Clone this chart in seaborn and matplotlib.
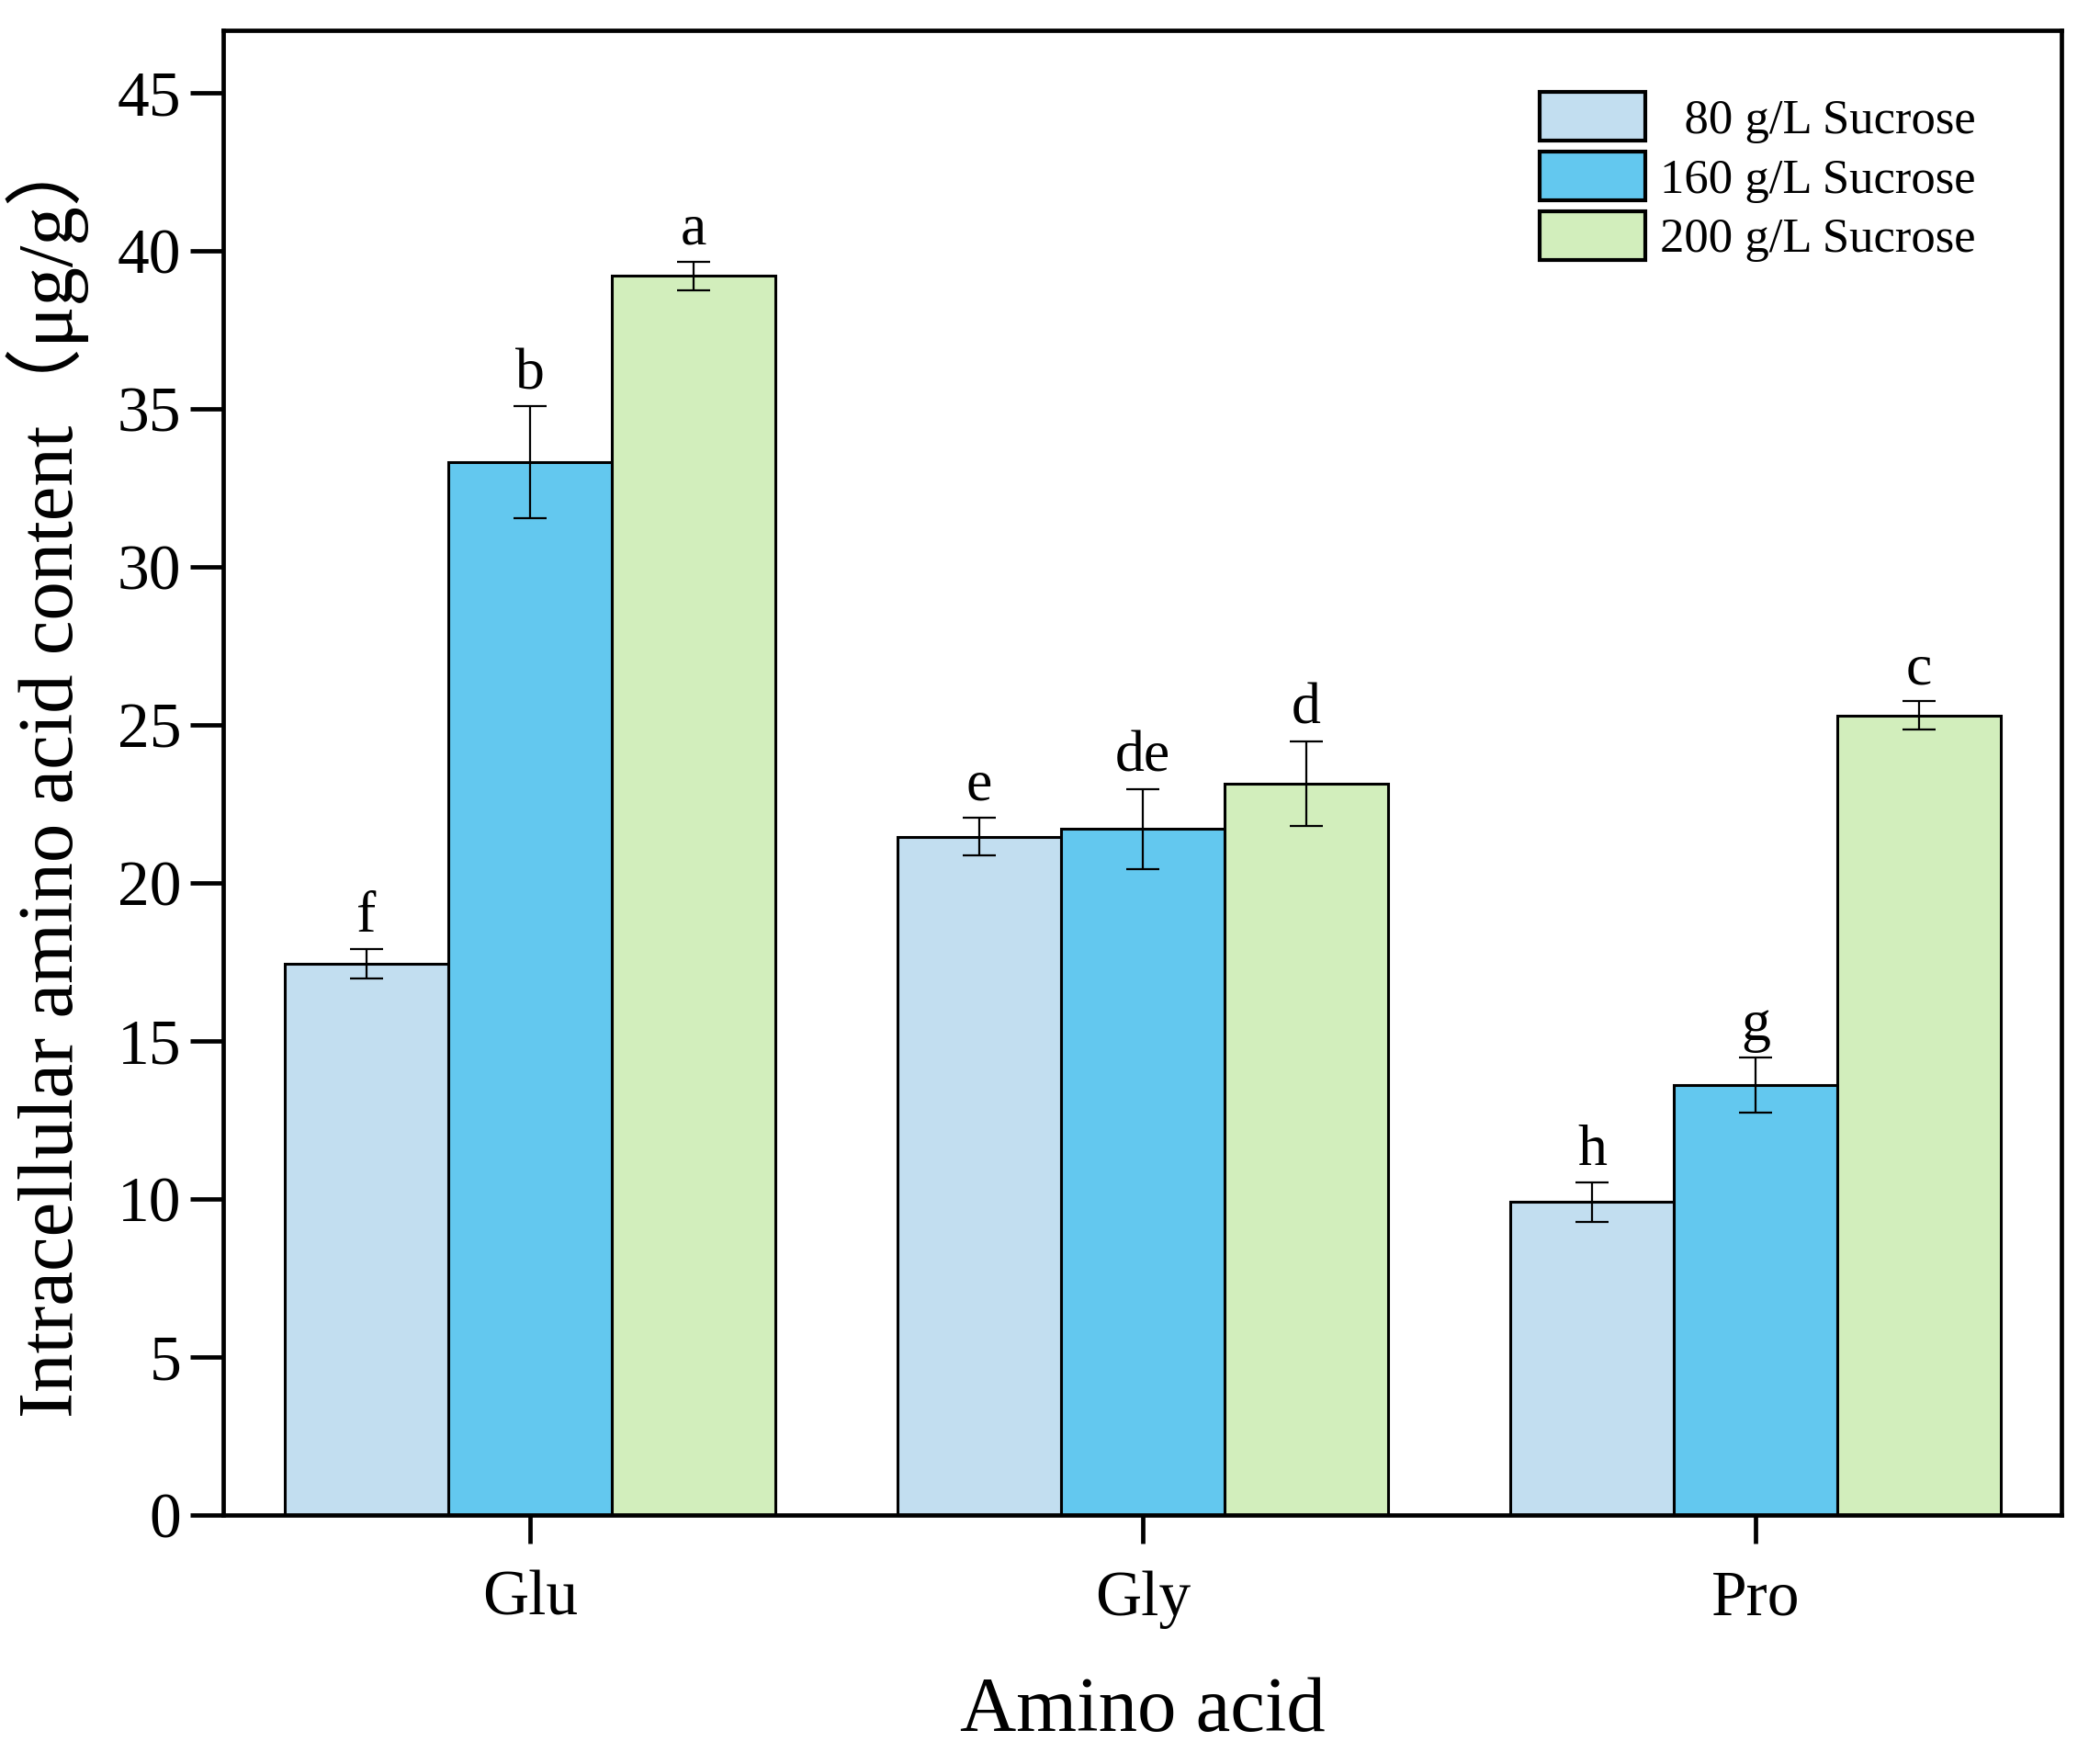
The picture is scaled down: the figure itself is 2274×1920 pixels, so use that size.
import numpy as np
import pandas as pd
import seaborn as sns
import matplotlib.pyplot as plt

amino = ["Glu", "Gly", "Pro"]
conditions = ["80 g/L Sucrose", "160 g/L Sucrose", "200 g/L Sucrose"]
means = {
    "80 g/L Sucrose": [17.45, 21.47, 9.91],
    "160 g/L Sucrose": [33.32, 21.72, 13.62],
    "200 g/L Sucrose": [39.22, 23.15, 25.31],
}
sds = {
    "80 g/L Sucrose": [0.47, 0.60, 0.63],
    "160 g/L Sucrose": [1.77, 1.27, 0.87],
    "200 g/L Sucrose": [0.45, 1.35, 0.45],
}
letters = {
    "80 g/L Sucrose": ["f", "e", "h"],
    "160 g/L Sucrose": ["b", "de", "g"],
    "200 g/L Sucrose": ["a", "d", "c"],
}
colors = ["#C2DEF0", "#63C8EF", "#D2EEBC"]

rows = []
for c in conditions:
    for a, m in zip(amino, means[c]):
        rows.append({"Amino acid": a, "cond": c, "value": m})
df = pd.DataFrame(rows)

sns.set_style("ticks")
plt.rcParams['font.family'] = ['Liberation Serif', 'Noto Sans CJK SC', 'DejaVu Sans']
plt.rcParams['text.color'] = 'black'
plt.rcParams['axes.labelcolor'] = 'black'
plt.rcParams['axes.edgecolor'] = 'black'
plt.rcParams['xtick.color'] = 'black'
plt.rcParams['ytick.color'] = 'black'

fig, ax = plt.subplots(figsize=(11.37, 9.6), dpi=200)
fig.subplots_adjust(left=0.107, right=0.987, top=0.983, bottom=0.141)

sns.barplot(data=df, x="Amino acid", y="value", hue="cond", order=amino,
            hue_order=conditions, palette=colors, errorbar=None,
            edgecolor="black", linewidth=1.1, saturation=1, width=0.8, ax=ax)

for cont, c in zip(ax.containers, conditions):
    xs = [b.get_x() + b.get_width() / 2 for b in cont]
    ax.errorbar(xs, means[c], yerr=sds[c], fmt="none", ecolor="black",
                elinewidth=0.8, capsize=6.5, capthick=0.8, zorder=5)
    for x, m, s, l in zip(xs, means[c], sds[c], letters[c]):
        ax.text(x, m + s + 0.15, l, ha="center", va="bottom", fontsize=23)

ax.set_ylim(0, 47)
ax.set_xlim(-0.5, 2.5)
ax.set_yticks(np.arange(0, 46, 5))
ax.tick_params(axis="both", labelsize=25, width=1.7, length=11, direction="out")
ax.tick_params(axis="y", length=13)
ax.tick_params(axis="x", pad=10.5)
ax.set_xlabel("Amino acid", fontsize=30.5, labelpad=19)
ax.set_ylabel("Intracellular amino acid content（μg/g）", fontsize=30.5, labelpad=11)
for sp in ax.spines.values():
    sp.set_visible(True)
    sp.set_linewidth(1.7)

handles, labels = ax.get_legend_handles_labels()
labels = ["  80 g/L Sucrose", "160 g/L Sucrose", "200 g/L Sucrose"]
leg = ax.legend(handles, labels, loc="upper right", bbox_to_anchor=(0.9715, 0.981),
                frameon=False, fontsize=19, handlelength=2.18, handleheight=1.17,
                labelspacing=0.18, handletextpad=0.3, borderaxespad=0.3)
for h in leg.legend_handles:
    h.set_edgecolor("black")
    h.set_linewidth(1.5)

fig.savefig("out.png", dpi=200)
